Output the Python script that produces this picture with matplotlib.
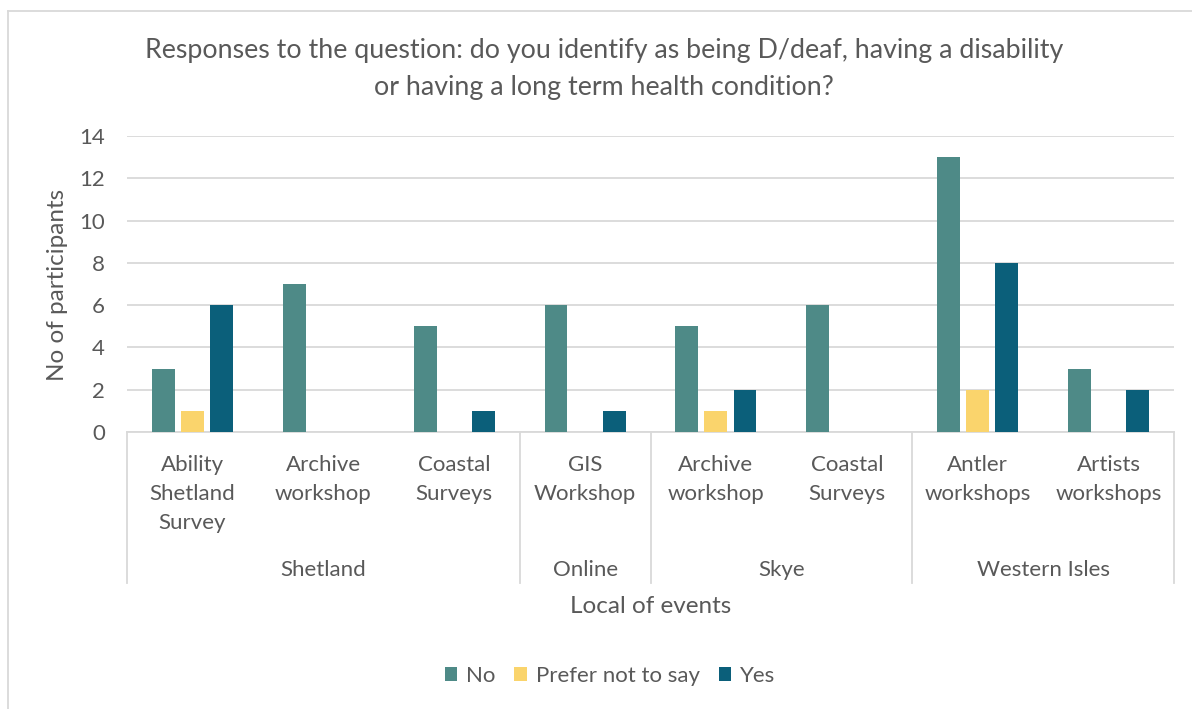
import matplotlib
matplotlib.use("Agg")
import matplotlib.pyplot as plt
import numpy as np
from matplotlib.lines import Line2D
from matplotlib.patches import Patch

# responses per event, grouped by location
events = ["Ability\nShetland\nSurvey", "Archive\nworkshop", "Coastal\nSurveys",
          "GIS\nWorkshop",
          "Archive\nworkshop", "Coastal\nSurveys",
          "Antler\nworkshops", "Artists\nworkshops"]
locations = ["Shetland", "Online", "Skye", "Western Isles"]
events_per_location = [3, 1, 2, 2]

no_counts = [3, 7, 5, 6, 5, 6, 13, 3]
prefer_counts = [1, 0, 0, 0, 1, 0, 2, 0]
yes_counts = [6, 0, 1, 1, 2, 0, 8, 2]

series = [("No", no_counts, "#4E8A87"),
          ("Prefer not to say", prefer_counts, "#FAD46C"),
          ("Yes", yes_counts, "#0B5F7A")]

TXT = "#595959"
GRID = "#D9D9D9"
LBL = 16
plt.rcParams["font.family"] = ["Lato", "DejaVu Sans"]

fig = plt.figure(figsize=(11.92, 7.09), dpi=100)
ax = fig.add_axes([127 / 1192, 1 - 432 / 709, (1174 - 127) / 1192, (432 - 136) / 709])

x = np.arange(len(events))
bw = 0.175
step = 0.222
for i, (name, vals, col) in enumerate(series):
    ax.bar(x + (i - 1) * step, vals, width=bw, color=col, label=name, zorder=3)

ax.set_xlim(-0.5, len(events) - 0.5)
ax.set_ylim(0, 14)
ax.set_yticks(range(0, 15, 2))
ax.yaxis.grid(True, color=GRID, linewidth=1.3, zorder=0)
for s in ["top", "right", "left"]:
    ax.spines[s].set_visible(False)
ax.spines["bottom"].set_color(GRID)
ax.spines["bottom"].set_linewidth(1.3)
ax.tick_params(axis="y", length=0, labelsize=LBL, labelcolor=TXT, pad=16)
ax.tick_params(axis="x", length=0)
ax.set_xticks([])

# event labels
trans = ax.get_xaxis_transform()
for xi, lab in zip(x, events):
    ax.text(xi, -(455 - 432) / 296, lab, transform=trans, ha="center", va="top",
            fontsize=LBL, color=TXT, linespacing=1.55)

# location separators and labels
sep_depth = -(583 - 432) / 296
edges = np.concatenate([[0], np.cumsum(events_per_location)]) - 0.5
for e in edges:
    ax.add_line(Line2D([e, e], [0, sep_depth], transform=trans, color=GRID,
                       linewidth=1.3, clip_on=False))
for loc, a, b in zip(locations, edges[:-1], edges[1:]):
    ax.text((a + b) / 2, -(570 - 432) / 296, loc, transform=trans,
            ha="center", va="center", fontsize=LBL, color=TXT)

ax.text(0.5, -(606 - 432) / 296, "Local of events", transform=ax.transAxes,
        ha="center", va="center", fontsize=17.5, color=TXT)
fig.text(58 / 1192, 1 - 285 / 709, "No of participants", rotation=90,
         ha="center", va="center", fontsize=17.5, color=TXT)

fig.text(0.507, 1 - 69 / 709,
         "Responses to the question: do you identify as being D/deaf, having a disability\n"
         "or having a long term health condition?",
         ha="center", va="center", fontsize=19.3, color=TXT, linespacing=1.6)

handles = [Patch(facecolor=c, label=n) for n, _, c in series]
fig.legend(handles=handles, loc="center", bbox_to_anchor=(610 / 1192, 1 - 676 / 709),
           ncol=3, frameon=False, fontsize=LBL, labelcolor=TXT,
           handlelength=0.56, handleheight=0.56, handletextpad=0.4, columnspacing=0.85)

# chart area border (left and top edges)
fig.add_artist(Line2D([8 / 1192, 8 / 1192], [0, 1 - 11 / 709], transform=fig.transFigure,
                      color=GRID, linewidth=1.3))
fig.add_artist(Line2D([8 / 1192, 1], [1 - 11 / 709, 1 - 11 / 709], transform=fig.transFigure,
                      color=GRID, linewidth=1.3))

fig.savefig("out.png", dpi=100, facecolor="white")
